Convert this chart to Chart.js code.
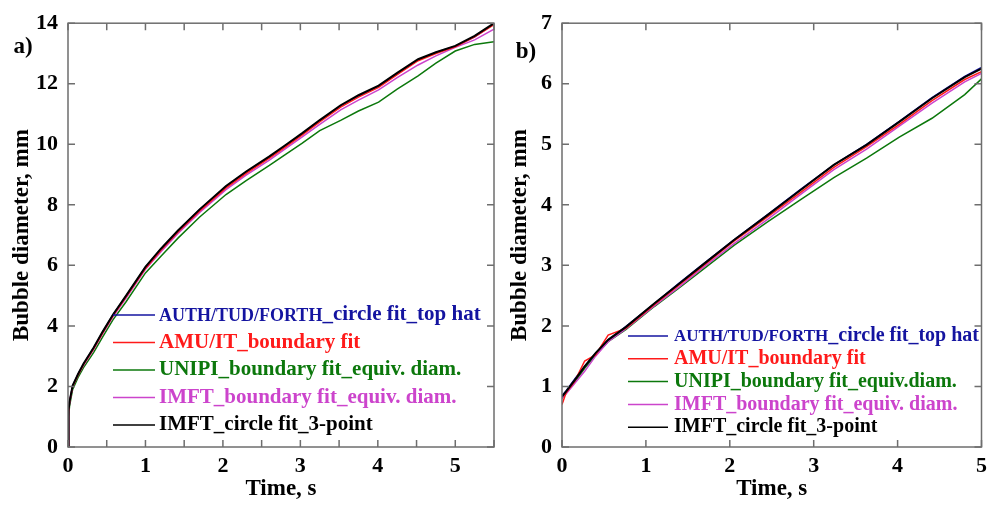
<!DOCTYPE html>
<html>
<head>
<meta charset="utf-8">
<script src="https://cdn.jsdelivr.net/npm/chart.js@4.4.1/dist/chart.umd.min.js"></script>
<style>
  body { margin: 0; background: #fff; }
  #wrapA { position: absolute; left: 0; top: 0; width: 500px; height: 506px; }
  #wrapB { position: absolute; left: 500px; top: 0; width: 493px; height: 506px; }
</style>
</head>
<body>
<div id="wrapA"><canvas id="chartA" width="500" height="506"></canvas></div>
<div id="wrapB"><canvas id="chartB" width="493" height="506"></canvas></div>
<script>
// series labels
const labels = [
  'AUTH/TUD/FORTH_circle fit_top hat',
  'AMU/IT_boundary fit',
  'UNIPI_boundary fit_equiv. diam.',
  'IMFT_boundary fit_equiv. diam.',
  'IMFT_circle fit_3-point'
];
const labelsB = [
  'AUTH/TUD/FORTH_circle fit_top hat',
  'AMU/IT_boundary fit',
  'UNIPI_boundary fit_equiv.diam.',
  'IMFT_boundary fit_equiv. diam.',
  'IMFT_circle fit_3-point'
];
const colors = ['#1414a0', '#ff1a1a', '#0c780c', '#cc44cc', '#000000'];

// panel a) time, s  /  diameter, mm
const timeA = [0, 0.004, 0.01, 0.02, 0.06, 0.13, 0.2, 0.33, 0.45, 0.58, 0.75, 1.0, 1.2, 1.42, 1.7, 2.04, 2.3, 2.6, 2.8, 3.02, 3.25, 3.52, 3.75, 4.01, 4.25, 4.52, 4.75, 5.0, 5.25, 5.5];
const blueA    = [0, 0.3, 1.2, 1.5, 2.02, 2.4, 2.74, 3.27, 3.81, 4.36, 4.99, 5.94, 6.54, 7.14, 7.84, 8.6, 9.08, 9.58, 9.94, 10.34, 10.78, 11.27, 11.6, 11.92, 12.33, 12.79, 13.03, 13.24, 13.55, 13.98];
const redA     = [0, 0.25, 1.15, 1.48, 2.0, 2.38, 2.72, 3.24, 3.78, 4.33, 4.96, 5.9, 6.5, 7.1, 7.8, 8.56, 9.04, 9.54, 9.9, 10.3, 10.74, 11.23, 11.56, 11.88, 12.3, 12.76, 13.0, 13.22, 13.55, 13.95];
const greenA   = [0, 0.2, 1.0, 1.35, 1.9, 2.3, 2.62, 3.12, 3.65, 4.2, 4.8, 5.75, 6.3, 6.9, 7.6, 8.34, 8.8, 9.3, 9.65, 10.03, 10.45, 10.79, 11.1, 11.39, 11.82, 12.26, 12.68, 13.08, 13.3, 13.39];
const magentaA = [0, 0.3, 1.15, 1.45, 2.0, 2.38, 2.7, 3.22, 3.75, 4.3, 4.92, 5.87, 6.45, 7.05, 7.75, 8.5, 8.98, 9.48, 9.84, 10.24, 10.66, 11.14, 11.46, 11.8, 12.2, 12.62, 12.92, 13.2, 13.45, 13.8];
const blackA   = [0, 0.3, 1.2, 1.5, 2.03, 2.41, 2.75, 3.28, 3.82, 4.37, 5.0, 5.95, 6.55, 7.15, 7.85, 8.62, 9.1, 9.6, 9.96, 10.36, 10.8, 11.29, 11.62, 11.94, 12.36, 12.81, 13.04, 13.25, 13.58, 14.0];

// panel b)
const timeB = [0, 0.05, 0.15, 0.27, 0.4, 0.55, 0.76, 1.1, 1.4, 1.67, 2.05, 2.45, 2.84, 3.24, 3.63, 4.02, 4.41, 4.8, 5.0];
const blueB    = [0.85, 0.93, 1.12, 1.33, 1.55, 1.77, 1.99, 2.37, 2.71, 3.01, 3.42, 3.84, 4.25, 4.66, 5.0, 5.38, 5.77, 6.12, 6.27];
const redB     = [0.7, 0.9, 1.08, 1.42, 1.52, 1.85, 1.96, 2.35, 2.68, 2.98, 3.4, 3.8, 4.2, 4.62, 4.96, 5.33, 5.72, 6.07, 6.2];
const greenB   = [0.8, 0.9, 1.07, 1.3, 1.52, 1.74, 1.94, 2.32, 2.63, 2.92, 3.33, 3.72, 4.08, 4.45, 4.77, 5.12, 5.43, 5.82, 6.08];
const magentaB = [0.8, 0.88, 1.05, 1.25, 1.5, 1.74, 1.95, 2.33, 2.65, 2.95, 3.36, 3.76, 4.17, 4.58, 4.92, 5.3, 5.68, 6.03, 6.17];
const blackB   = [0.83, 0.92, 1.1, 1.33, 1.55, 1.77, 1.98, 2.37, 2.7, 3.0, 3.42, 3.83, 4.24, 4.66, 4.99, 5.37, 5.76, 6.11, 6.25];

const serif = 'Liberation Serif';
const drawOrder = [3, 1, 4, 2, 0];

function makeSets(time, series, names) {
  return series.map((vals, i) => ({
    label: names[i],
    data: time.map((t, j) => ({ x: t, y: vals[j] })),
    borderColor: colors[i],
    backgroundColor: colors[i],
    borderWidth: i === 4 ? 2 : 1.5,
    pointRadius: 0,
    tension: 0,
    order: drawOrder[i]
  }));
}

// frame, inward ticks, legend inside plot, panel letter
const framePlugin = {
  id: 'frame',
  afterDatasetsDraw(chart, args, opts) {
    const ctx = chart.ctx;
    const a = chart.chartArea;
    const xs = chart.scales.x, ys = chart.scales.y;
    ctx.save();
    ctx.strokeStyle = '#6e6e6e';
    ctx.lineWidth = 1.5;
    ctx.strokeRect(a.left, a.top, a.right - a.left, a.bottom - a.top);
    ctx.beginPath();
    xs.ticks.forEach(t => {
      const px = xs.getPixelForValue(t.value);
      ctx.moveTo(px, a.bottom); ctx.lineTo(px, a.bottom - 7);
      ctx.moveTo(px, a.top); ctx.lineTo(px, a.top + 7);
    });
    ys.ticks.forEach(t => {
      const py = ys.getPixelForValue(t.value);
      ctx.moveTo(a.left, py); ctx.lineTo(a.left + 7, py);
      ctx.moveTo(a.right, py); ctx.lineTo(a.right - 7, py);
    });
    ctx.stroke();

    // legend
    const lg = opts.legend;
    ctx.textBaseline = 'middle';
    ctx.textAlign = 'left';
    chart.data.datasets.forEach((ds, i) => {
      const y = lg.y + i * lg.gap;
      ctx.strokeStyle = ds.borderColor;
      ctx.lineWidth = 1.5;
      ctx.beginPath();
      ctx.moveTo(lg.x1, y); ctx.lineTo(lg.x2, y);
      ctx.stroke();
      ctx.fillStyle = ds.borderColor;
      let x = lg.tx;
      let text = ds.label;
      const pre = 'AUTH/TUD/FORTH';
      if (text.startsWith(pre)) {
        ctx.font = 'bold ' + lg.small + 'px "' + serif + '"';
        ctx.fillText(pre, x, y + 1);
        x += ctx.measureText(pre).width;
        text = text.slice(pre.length);
      }
      ctx.font = 'bold ' + lg.size + 'px "' + serif + '"';
      ctx.fillText(text, x, y);
    });

    ctx.fillStyle = '#000';
    ctx.font = 'bold 23px "' + serif + '"';
    ctx.textAlign = 'center';
    ctx.fillText(opts.letter.text, opts.letter.x, opts.letter.y);
    ctx.restore();
  }
};

function makeChart(id, sets, cfg) {
  return new Chart(document.getElementById(id), {
    type: 'line',
    data: { datasets: sets },
    plugins: [framePlugin],
    options: {
      responsive: false,
      animation: false,
      layout: { padding: { top: cfg.top, right: cfg.right, left: 0, bottom: 0 } },
      plugins: {
        legend: { display: false },
        tooltip: { enabled: false },
        frame: { legend: cfg.legend, letter: cfg.letter }
      },
      scales: {
        x: {
          type: 'linear',
          min: 0,
          max: cfg.xMax,
          afterFit: s => { s.height = 59; },
          grid: { display: false, drawTicks: false },
          border: { display: false },
          ticks: {
            stepSize: cfg.xStep,
            padding: 6,
            color: '#000',
            font: { family: serif, size: 22, weight: 'bold' },
            callback: v => Number.isInteger(v) ? v : ''
          },
          title: {
            display: true,
            text: 'Time, s',
            color: '#000',
            padding: { top: 0, bottom: 3 },
            font: { family: serif, size: 23, weight: 'bold' }
          }
        },
        y: {
          min: 0,
          max: cfg.yMax,
          afterFit: s => { s.width = cfg.yWidth; },
          grid: { display: false, drawTicks: false },
          border: { display: false },
          ticks: {
            stepSize: cfg.yStep,
            padding: 10,
            color: '#000',
            font: { family: serif, size: 22, weight: 'bold' }
          },
          title: {
            display: true,
            text: 'Bubble diameter, mm',
            color: '#000',
            padding: { top: cfg.titlePad, bottom: 0 },
            font: { family: serif, size: 23, weight: 'bold' }
          }
        }
      }
    }
  });
}

makeChart('chartA', makeSets(timeA, [blueA, redA, greenA, magentaA, blackA], labels), {
  top: 19, right: 3, yWidth: 68, xMax: 5.5, xStep: 0.5, yMax: 14, yStep: 2, titlePad: 8,
  legend: { x1: 113, x2: 155, tx: 159, y: 315, gap: 27.5, size: 21, small: 18 },
  letter: { text: 'a)', x: 23, y: 47 }
});

makeChart('chartB', makeSets(timeB, [blueB, redB, greenB, magentaB, blackB], labelsB), {
  top: 23, right: 6, yWidth: 62, xMax: 5, xStep: 1, yMax: 7, yStep: 1, titlePad: 6,
  legend: { x1: 128, x2: 168, tx: 174, y: 336, gap: 22.8, size: 20, small: 17 },
  letter: { text: 'b)', x: 26, y: 52 }
});
</script>
</body>
</html>
